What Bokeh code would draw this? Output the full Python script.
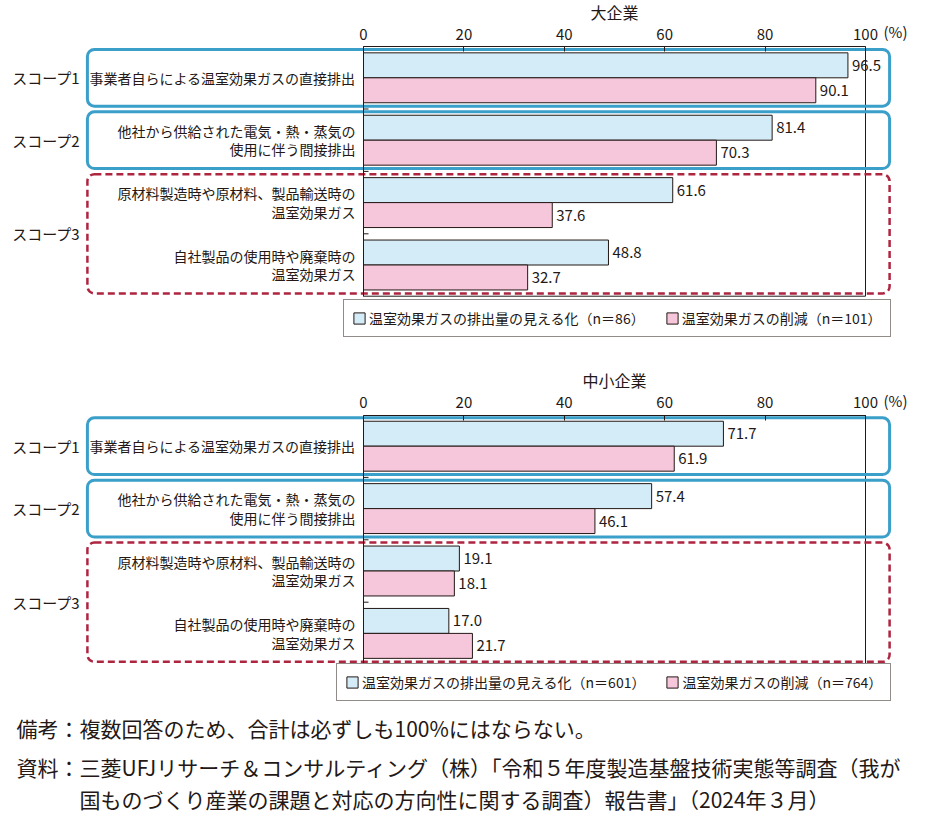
from bokeh.plotting import figure
from bokeh.models import Range1d, LinearAxis, FixedTicker, Legend, LegendItem, ColumnDataSource
from bokeh.layouts import column
from bokeh.core.properties import value
from bokeh.embed import file_html
from bokeh.resources import INLINE

# ---------------- data ----------------
categories = [
    "事業者自らによる温室効果ガスの直接排出",
    "他社から供給された電気・熱・蒸気の\n使用に伴う間接排出",
    "原材料製造時や原材料、製品輸送時の\n温室効果ガス",
    "自社製品の使用時や廃棄時の\n温室効果ガス",
]
scope_names = ["スコープ1", "スコープ2", "スコープ3"]
scope_members = [[0], [1], [2, 3]]
scope_styles = ["solid", "solid", "dashed"]

large_title = "大企業"
large_visible = [96.5, 81.4, 61.6, 48.8]
large_reduce = [90.1, 70.3, 37.6, 32.7]
large_legend = ["温室効果ガスの排出量の見える化（n＝86）", "温室効果ガスの削減（n＝101）"]

sme_title = "中小企業"
sme_visible = [71.7, 57.4, 19.1, 17.0]
sme_reduce = [61.9, 46.1, 18.1, 21.7]
sme_legend = ["温室効果ガスの排出量の見える化（n＝601）", "温室効果ガスの削減（n＝764）"]

x_ticks = [0, 20, 40, 60, 80, 100]
x_unit = "(%)"

notes = [
    "備考：複数回答のため、合計は必ずしも100%にはならない。",
    "資料：三菱UFJリサーチ＆コンサルティング（株）「令和５年度製造基盤技術実態等調査（我が",
    "国ものづくり産業の課題と対応の方向性に関する調査）報告書」（2024年３月）",
]

# ---------------- style ----------------
FONT = "Noto Sans CJK JP"
JP = value(FONT)
INK = "#231815"
BLUE_FILL = "#d4ebf8"
PINK_FILL = "#f6c7db"
BOX_BLUE = "#3a9fc9"
BOX_RED = "#ae2540"

W = 920
PX_PER_UNIT = 5.02      # pixels per percentage point
ORIGIN_PX = 363         # canvas x of the 0 % line
PITCH = 62.4            # pixels per category slot
G_LO, G_HI = -0.5, len(categories) - 0.5
BAR_H = 0.4
BOX_PAD = 0.455
BOX_X0, BOX_X1 = -55.0, 104.8
SEP_TICK = 1.0          # length of the category separator ticks (in % units)


def make_panel(title, vis, red, legend_labels, height, c0_px, legend_loc, foot=None):
    p = figure(width=W, height=height, output_backend="svg", toolbar_location=None,
               x_axis_location=None, y_axis_location=None, title=None,
               x_range=Range1d(-ORIGIN_PX / PX_PER_UNIT, (W - ORIGIN_PX) / PX_PER_UNIT),
               y_range=Range1d((height - c0_px) / PITCH, -c0_px / PITCH),
               min_border=0, outline_line_color=None)
    p.grid.visible = False
    p.background_fill_color = "white"

    idx = list(range(len(categories)))
    src_v = ColumnDataSource(dict(y=[i - BAR_H / 2 for i in idx], v=vis,
                                  t=[f"{x:.1f}" for x in vis]))
    src_r = ColumnDataSource(dict(y=[i + BAR_H / 2 for i in idx], v=red,
                                  t=[f"{x:.1f}" for x in red]))

    r_v = p.hbar(y="y", left=0, right="v", height=BAR_H, source=src_v,
                 fill_color=BLUE_FILL, line_color=INK, line_width=1)
    r_r = p.hbar(y="y", left=0, right="v", height=BAR_H, source=src_r,
                 fill_color=PINK_FILL, line_color=INK, line_width=1)

    for src in (src_v, src_r):
        p.text(x="v", y="y", text="t", source=src, x_offset=4, text_align="left",
               text_baseline="middle", text_font=JP, text_font_size="15px", text_color=INK)

    # frame: right and bottom edges
    p.segment(x0=[x_ticks[-1], x_ticks[0]], y0=[G_LO, G_HI],
              x1=[x_ticks[-1], x_ticks[-1]], y1=[G_HI, G_HI], line_color=INK, line_width=1)
    # category separator ticks on the value axis origin
    seps = [i + 0.5 for i in idx[:-1]]
    p.segment(x0=[0] * len(seps), y0=seps, x1=[SEP_TICK] * len(seps), y1=seps,
              line_color=INK, line_width=1)

    # axes
    xax = LinearAxis(fixed_location=G_LO, bounds=(x_ticks[0], x_ticks[-1]),
                     ticker=FixedTicker(ticks=x_ticks), major_tick_in=5, major_tick_out=0,
                     minor_tick_line_color=None, major_label_standoff=7,
                     major_label_text_font=FONT, major_label_text_font_size="15px",
                     major_label_text_color=INK, axis_line_color=INK, major_tick_line_color=INK)
    p.add_layout(xax, "above")
    yax = LinearAxis(fixed_location=0, bounds=(G_LO, G_HI), ticker=FixedTicker(ticks=[]),
                     major_tick_line_color=None, minor_tick_line_color=None,
                     axis_line_color=INK)
    p.add_layout(yax, "left")

    p.text(x=[x_ticks[-1]], y=[G_LO], text=[x_unit], x_offset=18, y_offset=-15,
           text_align="left", text_baseline="middle", text_font=JP,
           text_font_size="15px", text_color=INK)

    # title
    p.text(x=[(x_ticks[0] + x_ticks[-1]) / 2], y=[G_LO], text=[title], y_offset=-35,
           text_align="center", text_baseline="middle", text_font=JP,
           text_font_size="16px", text_color=INK)

    # category labels
    p.text(x=[0] * len(idx), y=idx, text=categories, x_offset=-8, text_align="right",
           text_baseline="middle", text_font=JP, text_font_size="14px",
           text_line_height=0.92, text_color=INK)

    # scope boxes and labels
    for name, mem, sty in zip(scope_names, scope_members, scope_styles):
        top, bot = min(mem) - BOX_PAD, max(mem) + BOX_PAD
        if sty == "solid":
            p.quad(left=[BOX_X0], right=[BOX_X1], top=[top], bottom=[bot], fill_color=None,
                   line_color=BOX_BLUE, line_width=3, border_radius=7)
        else:
            p.quad(left=[BOX_X0], right=[BOX_X1], top=[top], bottom=[bot], fill_color=None,
                   line_color=BOX_RED, line_width=2.5, line_dash="7 4", border_radius=7)
        p.text(x=[0], y=[sum(mem) / len(mem)], text=[name], x_offset=-283,
               text_align="right", text_baseline="middle", text_font=JP,
               text_font_size="15px", text_color=INK)

    legend = Legend(items=[LegendItem(label=legend_labels[0], renderers=[r_v]),
                           LegendItem(label=legend_labels[1], renderers=[r_r])],
                    orientation="horizontal", location=legend_loc,
                    glyph_width=14, glyph_height=14, label_height=14, label_standoff=3,
                    padding=8, spacing=20, margin=0,
                    label_text_font=FONT, label_text_font_size="14px", label_text_color=INK,
                    border_line_color=INK, border_line_width=1,
                    background_fill_color="white", background_fill_alpha=1)
    p.add_layout(legend)

    if foot:
        offs = [63, 102, 134]
        xoffs = [-347, -347, -284]
        for t, yo, xo in zip(foot, offs, xoffs):
            p.text(x=[0], y=[G_HI], text=[t], x_offset=xo, y_offset=yo,
                   text_align="left", text_baseline="middle", text_font=JP,
                   text_font_size="21px", text_color=INK)
    return p


H1, H2 = 342, 473
p1 = make_panel(large_title, large_visible, large_reduce, large_legend,
                height=H1, c0_px=77.3, legend_loc=(343, H1 - 337))
p2 = make_panel(sme_title, sme_visible, sme_reduce, sme_legend,
                height=H2, c0_px=445.7 - H1, legend_loc=(336, H2 - (701 - H1)), foot=notes)

layout = column(p1, p2, spacing=0)
open("out.html", "w").write(file_html(layout, INLINE))
